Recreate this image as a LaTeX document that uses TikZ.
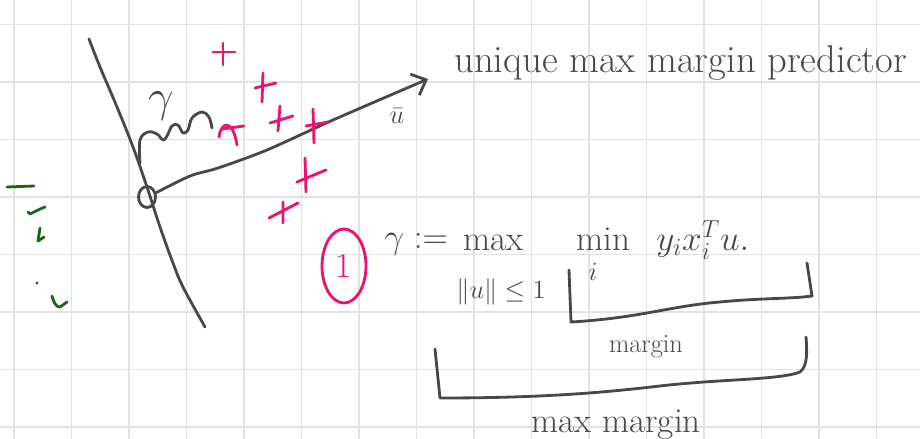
\RequirePackage{fix-cm}
\documentclass[tikz,border=0pt]{standalone}
\usepackage{amsmath}
\usepackage{fontspec}
\usetikzlibrary{arrows.meta,shapes.geometric}
\definecolor{ink}{RGB}{72,72,72}
\definecolor{hot}{RGB}{236,18,110}
\definecolor{leaf}{RGB}{24,104,24}
\definecolor{gridline}{RGB}{226,226,226}

\begin{document}
\begin{tikzpicture}[
    x=0.02cm, y=-0.02cm,
    pen/.style={draw=ink, line width=1.6pt, line cap=round, line join=round},
    crossmark/.style={draw=hot, line width=1.6pt, line cap=round},
    greenmark/.style={draw=leaf, line width=1.6pt, line cap=round, line join=round},
    hand/.style={text=ink, inner sep=0pt, font=\fontsize{20}{24}\selectfont},
    small/.style={text=ink, inner sep=0pt, font=\fontsize{15}{18}\selectfont}
  ]
    \useasboundingbox (0,0) rectangle (920,439);
    \clip (0,0) rectangle (920,439);
    \fill[white] (0,0) rectangle (920,439);

    % Paper grid
    \foreach \i in {0,...,15} \draw[draw=gridline, line width=0.9pt] (14+57.5*\i,0) -- (14+57.5*\i,439);
    \foreach \i in {0,...,7} \draw[draw=gridline, line width=0.9pt] (0,24.3+57.5*\i) -- (920,24.3+57.5*\i);

    % Green ticks on the left
    \draw[greenmark] (7,187) -- (34,186);
    \draw[greenmark] (28,212) -- (30,214) .. controls (36,211) and (40,209) .. (45,207);
    \draw[greenmark] (40,228) -- (38,241) -- (44,237);
    \fill[leaf] (37,283) circle (1.6);
    \draw[greenmark] (52,296) .. controls (54,303) and (56,307) .. (60,307) -- (67,302);

    % Separating hyperplane
    \draw[pen] plot[smooth, tension=0.6] coordinates {(89,39) (100,67) (117,107) (133,147) (147,187) (160,227) (173,263) (183,287) (205,327)};
    \node[ellipse, pen, minimum width=0.34cm, minimum height=0.42cm, inner sep=0pt] (origin) at (147,197) {};

    % Direction u
    \coordinate (tip) at (428,79);
    \draw[pen, -{Straight Barb[length=7pt,width=13pt]}] plot[smooth, tension=0.5] coordinates {(origin.25) (190,176) (218,168) (267,150) (333,120) (tip)};
    \node[small] (ubar) at (397,116) {$\bar{u}$};
    \node[hand, anchor=base west, font=\fontsize{22}{26}\selectfont] (caption) at (454,73) {unique max margin predictor};

    % Margin gamma
    \node[hand, font=\fontsize{26}{30}\selectfont] (gamma) at (161,106) {$\gamma$};
    \draw[pen] plot[smooth, tension=0.6] coordinates {(140,163) (140,140) (148,132) (157,134) (163,140) (167,136) (172,126) (178,125) (183,133) (188,130) (192,118) (202,112) (209,117) (212,128)};

    % Positive points
    \foreach \a/\b/\c/\d/\e/\f/\g/\h in {213/52/235/52/223/43/223/65, 255/88/276/83/263/73/262/102, 270/123/293/116/280/106/278/131, 306/126/328/122/313/109/314/143, 297/182/326/170/305/158/306/192, 269/218/298/203/283/202/283/223}
      \draw[crossmark] (\a,\b) -- (\c,\d) (\e,\f) -- (\g,\h);
    \draw[crossmark] (219,137) .. controls (221,121) and (233,119) .. (237,145);
    \draw[crossmark] (222,129) -- (244,126);

    % Definition (1)
    \node[ellipse, draw=hot, line width=1.6pt, text=hot, minimum width=0.88cm, minimum height=1.48cm, inner sep=0pt, font=\fontsize{20}{24}\selectfont] (one) at (344,266) {1};
    \node[hand, anchor=base west] (def) at (384,248) {$\gamma :=$};
    \node[hand, anchor=base west] (maxop) at (463,250) {$\max$};
    \node[hand, anchor=base west] (minop) at (576,250) {$\min$};
    \node[hand, anchor=base west] (term) at (656,250) {$y_i x_i^{T} u.$};
    \node[small, anchor=base west] (norm) at (456,298) {$\|u\|\le 1$};
    \node[small] (idx) at (593,272) {$i$};

    % Braces
    \draw[pen] (569,270) -- (571,322) .. controls (640,318) and (670,306) .. (720,302) .. controls (760,298) and (790,299) .. (812,296) -- (807,263);
    \node[small, anchor=base] (marginlbl) at (646,352) {margin};
    \draw[pen] (435,349) -- (440,398) .. controls (540,398) and (600,393) .. (660,386) .. controls (720,379) and (780,380) .. (800,372) .. controls (808,366) and (807,350) .. (806,337);
    \node[hand, anchor=base west] (maxmargin) at (531,432) {max margin};
\end{tikzpicture}
\end{document}
